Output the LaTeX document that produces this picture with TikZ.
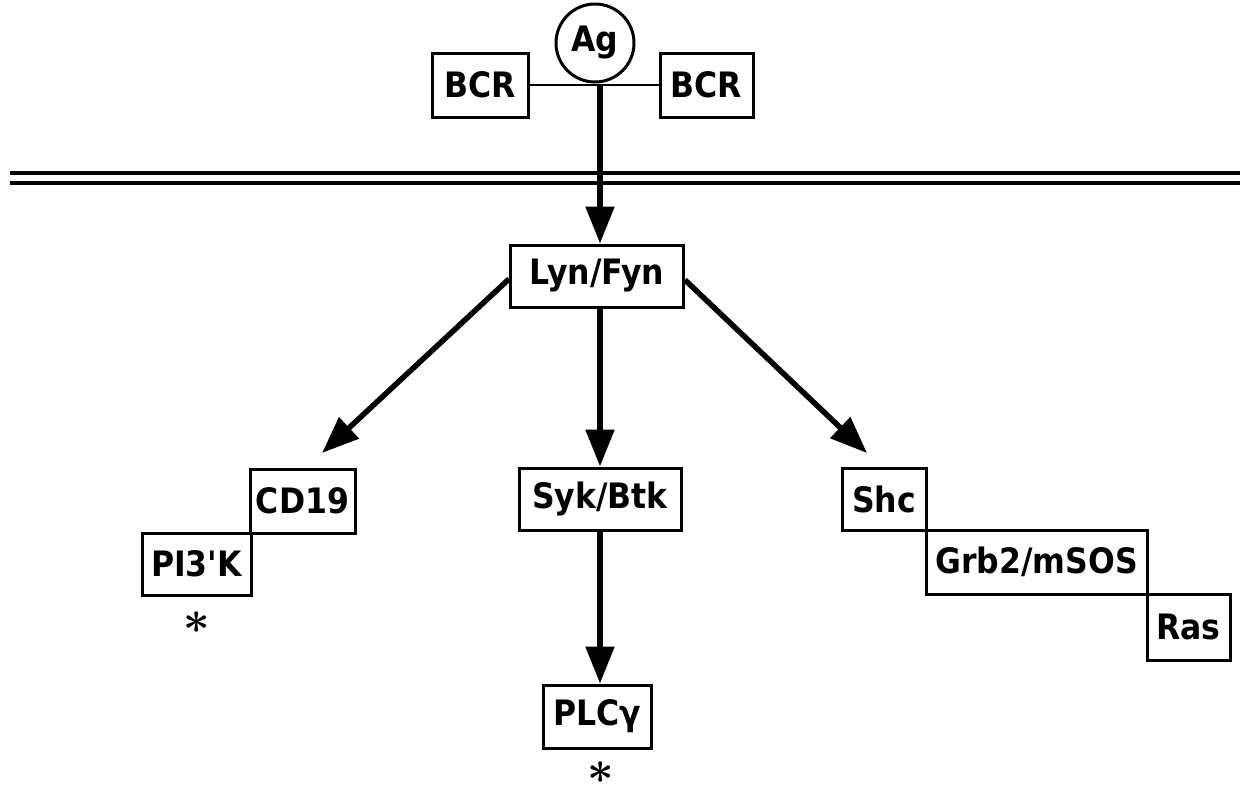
\documentclass[tikz,border=0pt]{standalone}
\usepackage{fontspec}
\usepackage{graphicx}
\newfontfamily\lab{DejaVu Sans Condensed}[BoldFont={DejaVu Sans Condensed Bold}]
\usetikzlibrary{arrows.meta}
\newcommand{\bigstarsym}{\scalebox{4.6}{\boldmath$\ast$}}
\begin{document}
\begin{tikzpicture}[x=1pt,y=-1pt,
  box/.style={draw, line width=3pt, inner sep=0pt, font=\lab\bfseries\fontsize{35}{35}\selectfont},
  arr/.style={line width=5.5pt, -{Triangle[length=37pt,width=28pt]}},
  membrane/.style={line width=3.5pt},
  star/.style={inner sep=0pt}]
\useasboundingbox (0,0) rectangle (1240,788);
% membrane
\draw[membrane] (10,173) -- (1240,173);
\draw[membrane] (10,183) -- (1240,183);
% receptor
\node[box, minimum width=96pt, minimum height=64pt] (BCRL) at (480,85) {BCR};
\node[box, minimum width=93pt, minimum height=64pt] (BCRR) at (706.5,85) {BCR};
\node[box, circle, minimum size=78pt] (Ag) at (595,43) {Ag};
\draw[line width=2.5pt] (BCRL.east) -- (BCRR.west);
\coordinate (J) at (600,85);
% kinases
\node[box, minimum width=173pt, minimum height=62pt] (Lyn) at (597,276) {Lyn/Fyn};
\node[box, minimum width=162pt, minimum height=62pt] (Syk) at (600,499) {Syk/Btk};
\node[box, minimum width=108pt, minimum height=63pt] (PLC) at (597,716.5) {PLCγ};
\node[box, minimum width=105pt, minimum height=64pt] (CD19) at (302.5,501) {CD19};
\node[box, minimum width=109pt, minimum height=62pt] (PI3K) at (196.5,564) {PI3'K};
\node[box, minimum width=84pt, minimum height=62pt] (Shc) at (884,499) {Shc};
\node[box, minimum width=221pt, minimum height=64pt] (Grb) at (1036.5,562) {Grb2/mSOS};
\node[box, minimum width=83pt, minimum height=66pt] (Ras) at (1188.5,627) {Ras};
\node[star] (s1) at (197,623) {\bigstarsym};
\node[star] (s2) at (601,773) {\bigstarsym};
% arrows
\coordinate (tipL) at (322,453);
\coordinate (tipR) at (867,453);
\draw[arr] (J) -- (J |- Lyn.north);
\draw[arr] (Lyn.south -| Syk.north) -- (Syk.north);
\draw[arr] (Syk.south) -- (Syk.south |- PLC.north);
\draw[arr] ([yshift=-3pt]Lyn.west) -- (tipL);
\draw[arr] ([yshift=-4pt]Lyn.east) -- (tipR);
\end{tikzpicture}
\end{document}
